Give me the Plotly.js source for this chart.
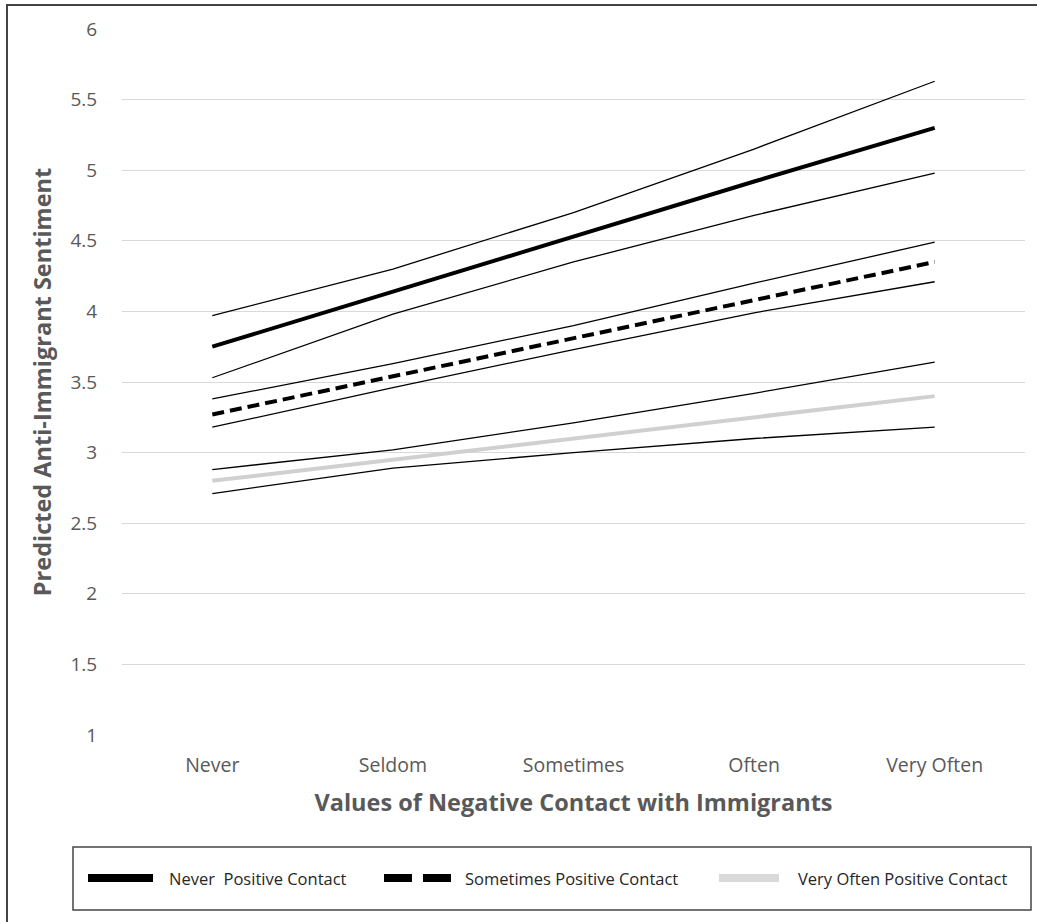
<!DOCTYPE html>
<html>
<head>
<meta charset="utf-8">
<script src="https://cdn.plot.ly/plotly-3.0.1.min.js"></script>
<style>html,body{margin:0;padding:0;background:#fff;}#chart{width:1037px;height:922px;}</style>
</head>
<body>
<div id="chart"></div>
<script>
// ---- data ----
const categories = ["Never", "Seldom", "Sometimes", "Often", "Very Often"];
const neverPos      = [3.75, 4.14, 4.53, 4.92, 5.30];
const neverPosHi    = [3.97, 4.30, 4.70, 5.15, 5.63];
const neverPosLo    = [3.53, 3.98, 4.35, 4.68, 4.98];
const sometimesPos   = [3.27, 3.54, 3.81, 4.08, 4.35];
const sometimesPosHi = [3.38, 3.63, 3.90, 4.20, 4.49];
const sometimesPosLo = [3.18, 3.46, 3.73, 3.99, 4.21];
const veryOftenPos   = [2.80, 2.95, 3.10, 3.25, 3.40];
const veryOftenPosHi = [2.88, 3.02, 3.21, 3.42, 3.64];
const veryOftenPosLo = [2.71, 2.89, 3.00, 3.10, 3.18];
const yTicks = [1, 1.5, 2, 2.5, 3, 3.5, 4, 4.5, 5, 5.5, 6];
const seriesNames = ["Never  Positive Contact", "Sometimes Positive Contact", "Very Often Positive Contact"];

// ---- layout helpers (pixel -> paper) ----
const W = 1037, H = 922, L = 122, R = 1025, T = 29, B = 735;
const px = v => (v - L) / (R - L);
const py = v => (B - v) / (B - T);
const FONT = "'Open Sans', 'Liberation Sans', Arial, sans-serif";
const GREY_TXT = "#595959";

function ci(y, name) {
  return {x: categories, y: y, type: "scatter", mode: "lines", name: name, showlegend: false,
          line: {color: "#000", width: 1.3}, hoverinfo: "skip"};
}
const traces = [
  ci(neverPosHi, "Never upper"), ci(neverPosLo, "Never lower"),
  ci(sometimesPosHi, "Sometimes upper"), ci(sometimesPosLo, "Sometimes lower"),
  ci(veryOftenPosHi, "Very Often upper"), ci(veryOftenPosLo, "Very Often lower"),
  {x: categories, y: neverPos, type: "scatter", mode: "lines", name: seriesNames[0], showlegend: false,
   line: {color: "#000", width: 4}},
  {x: categories, y: sometimesPos, type: "scatter", mode: "lines", name: seriesNames[1], showlegend: false,
   line: {color: "#000", width: 4, dash: "12px,6px"}},
  {x: categories, y: veryOftenPos, type: "scatter", mode: "lines", name: seriesNames[2], showlegend: false,
   line: {color: "#d0d0d0", width: 4}}
];

const legY = py(878);
const shapes = [
  // outer frame
  {type: "rect", xref: "paper", yref: "paper", x0: px(7), x1: px(1045), y0: py(935), y1: py(5),
   line: {color: "#444", width: 2}, fillcolor: "rgba(0,0,0,0)", layer: "below"},
  // legend box
  {type: "rect", xref: "paper", yref: "paper", x0: px(73), x1: px(1031), y0: py(910), y1: py(847),
   line: {color: "#444", width: 1.5}, fillcolor: "rgba(0,0,0,0)"},
  // legend samples
  {type: "line", xref: "paper", yref: "paper", x0: px(88), x1: px(153), y0: legY, y1: legY,
   line: {color: "#000", width: 8}},
  {type: "line", xref: "paper", yref: "paper", x0: px(384), x1: px(451), y0: legY, y1: legY,
   line: {color: "#000", width: 8, dash: "28px,11px"}},
  {type: "line", xref: "paper", yref: "paper", x0: px(719), x1: px(779), y0: legY, y1: legY,
   line: {color: "#d9d9d9", width: 8}}
];
const legTextX = [167, 463, 796];
const annotations = seriesNames.map((s, i) => ({
  xref: "paper", yref: "paper", x: px(legTextX[i]), y: legY, xanchor: "left", yanchor: "middle",
  text: s, showarrow: false, font: {family: FONT, size: 16.5, color: "#262626"}
}));

const layout = {
  width: W, height: H,
  margin: {l: L, r: W - R, t: T, b: H - B},
  paper_bgcolor: "#fff", plot_bgcolor: "#fff",
  showlegend: false,
  xaxis: {
    type: "category", range: [-0.5, 4.5], showgrid: false, zeroline: false, showline: false,
    ticks: "outside", ticklen: 13, tickcolor: "rgba(0,0,0,0)",
    tickfont: {family: FONT, size: 19.5, color: GREY_TXT},
    title: {text: "<b>Values of Negative Contact with Immigrants</b>", standoff: 17,
            font: {family: FONT, size: 23.5, color: GREY_TXT}}
  },
  yaxis: {
    range: [1, 6], tickvals: yTicks, ticktext: yTicks.map(String),
    showgrid: true, gridcolor: "#d9d9d9", gridwidth: 1, zeroline: false, showline: false,
    ticks: "outside", ticklen: 20, tickcolor: "rgba(0,0,0,0)",
    tickfont: {family: FONT, size: 19, color: GREY_TXT},
    title: {text: "<b>Predicted Anti-Immigrant Sentiment</b>", standoff: 12,
            font: {family: FONT, size: 23.5, color: GREY_TXT}}
  },
  shapes: shapes,
  annotations: annotations
};

Plotly.newPlot("chart", traces, layout, {displayModeBar: false, staticPlot: true});
</script>
</body>
</html>
